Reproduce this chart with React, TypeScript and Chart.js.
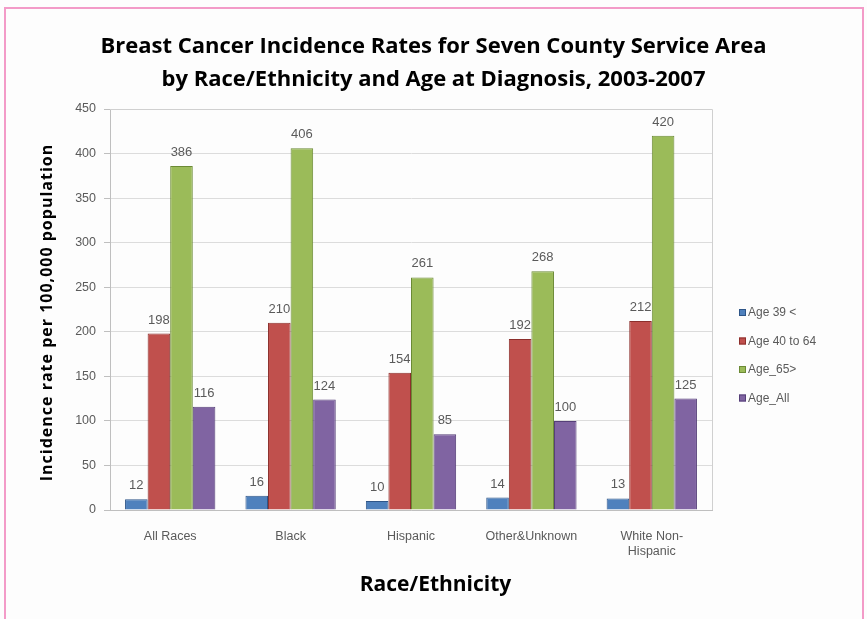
import React, { useEffect, useRef } from "react";
import { Chart, registerables } from "chart.js";

Chart.register(...registerables);

const categories: (string | string[])[] = [
  "All Races",
  "Black",
  "Hispanic",
  "Other&Unknown",
  ["White Non-", "Hispanic"],
];

const seriesNames = ["Age 39 <", "Age 40 to 64", "Age_65>", "Age_All"];
const age39 = [12, 16, 10, 14, 13];
const age40to64 = [198, 210, 154, 192, 212];
const age65 = [386, 406, 261, 268, 420];
const ageAll = [116, 124, 85, 100, 125];

const titleLines = [
  "Breast Cancer Incidence Rates for Seven County Service Area",
  "by Race/Ethnicity and Age at Diagnosis, 2003-2007",
];
const xTitle = "Race/Ethnicity";
const yTitle = "Incidence rate per 100,000 population";

const fills = ["#4f81bd", "#c0504d", "#9bbb59", "#8064a2"];
const edges = ["#2e5588", "#8c2f2c", "#6b8a35", "#553f78"];

const yMax = 450;
const yStep = 50;

const labelFont = "Liberation Sans, Arial, sans-serif";
const headFont = "'Open Sans', sans-serif";

// Value labels above every bar
const valueLabels = {
  id: "valueLabels",
  afterDatasetsDraw(chart: any) {
    const ctx = chart.ctx;
    ctx.save();
    ctx.font = `13px ${labelFont}`;
    ctx.fillStyle = "#5a5a5a";
    ctx.textAlign = "center";
    ctx.textBaseline = "bottom";
    chart.data.datasets.forEach((ds: any, i: number) => {
      const meta = chart.getDatasetMeta(i);
      meta.data.forEach((bar: any, j: number) => {
        ctx.fillText(String(ds.data[j]), bar.x, bar.y - 7);
      });
    });
    ctx.restore();
  },
};

// Headings, plot frame and the series key at the right of the plot
const frameAndKey = {
  id: "frameAndKey",
  afterDraw(chart: any) {
    const { ctx, chartArea, width } = chart;
    ctx.save();

    // main heading, centred on the page
    ctx.fillStyle = "#000";
    ctx.textAlign = "center";
    ctx.textBaseline = "middle";
    ctx.font = `bold 22px ${headFont}`;
    titleLines.forEach((line, i) => ctx.fillText(line, width / 2, 47 + i * 33));

    // category axis heading
    ctx.font = `bold 21px ${headFont}`;
    ctx.fillText(xTitle, width / 2 + 2, 585);

    // value axis heading
    ctx.save();
    ctx.translate(47, (chartArea.top + chartArea.bottom) / 2 + 3);
    ctx.rotate(-Math.PI / 2);
    ctx.font = `bold 16px ${headFont}`;
    (ctx as any).letterSpacing = "1px";
    ctx.fillText(yTitle, 0, 0);
    ctx.restore();

    // plot frame (top and right)
    ctx.strokeStyle = "#d0d0d0";
    ctx.lineWidth = 1;
    ctx.beginPath();
    ctx.moveTo(chartArea.left, chartArea.top + 0.5);
    ctx.lineTo(chartArea.right + 0.5, chartArea.top + 0.5);
    ctx.lineTo(chartArea.right + 0.5, chartArea.bottom);
    ctx.stroke();

    // series key
    const x0 = chartArea.right + 27;
    const y0 = chartArea.top + 204;
    const gap = 28.5;
    ctx.font = `12px ${labelFont}`;
    ctx.textBaseline = "middle";
    ctx.textAlign = "left";
    chart.data.datasets.forEach((ds: any, i: number) => {
      const y = y0 + i * gap;
      ctx.fillStyle = ds.backgroundColor;
      ctx.fillRect(x0, y - 4, 7, 7);
      ctx.strokeStyle = ds.borderColor;
      ctx.strokeRect(x0 + 0.5, y - 3.5, 6, 6);
      ctx.fillStyle = "#5a5a5a";
      ctx.fillText(ds.label, x0 + 9, y);
    });
    ctx.restore();
  },
};

export default function App() {
  const ref = useRef<HTMLCanvasElement>(null);

  useEffect(() => {
    if (!ref.current) return;
    const series = [age39, age40to64, age65, ageAll];
    const chart = new Chart(ref.current, {
      type: "bar",
      data: {
        labels: categories,
        datasets: series.map((data, i) => ({
          label: seriesNames[i],
          data,
          backgroundColor: fills[i],
          borderColor: edges[i],
          borderWidth: 1,
          categoryPercentage: 0.75,
          barPercentage: 1,
        })),
      },
      options: {
        animation: false,
        responsive: false,
        maintainAspectRatio: false,
        layout: { padding: { top: 109, left: 0, right: 155, bottom: 0 } },
        plugins: {
          legend: { display: false },
          tooltip: { enabled: false },
          title: { display: false },
        },
        scales: {
          x: {
            grid: { display: false, drawTicks: false },
            border: { color: "#bfbfbf" },
            ticks: {
              color: "#5a5a5a",
              font: { family: labelFont, size: 12.5 },
              padding: 19,
            },
            afterFit: (scale: any) => {
              scale.height = 109;
            },
          },
          y: {
            min: 0,
            max: yMax,
            ticks: {
              stepSize: yStep,
              color: "#5a5a5a",
              font: { family: labelFont, size: 12.5 },
              padding: 8,
            },
            grid: { color: "#dcdcdc", tickLength: 6, tickColor: "#bfbfbf" },
            border: { color: "#bfbfbf" },
            afterFit: (scale: any) => {
              scale.width = 110;
            },
          },
        },
      },
      plugins: [valueLabels, frameAndKey],
    });
    return () => chart.destroy();
  }, []);

  return (
    <div style={{ position: "absolute", left: 0, top: 0, width: 867, height: 619, background: "#fdfdfd" }}>
      <div
        style={{
          position: "absolute",
          left: 4,
          top: 7,
          right: 3,
          bottom: 0,
          borderTop: "2px solid #f39bc8",
          borderLeft: "2px solid #f39bc8",
          borderRight: "2px solid #f39bc8",
        }}
      />
      <canvas ref={ref} width={867} height={619} style={{ position: "absolute", left: 0, top: 0 }} />
    </div>
  );
}
